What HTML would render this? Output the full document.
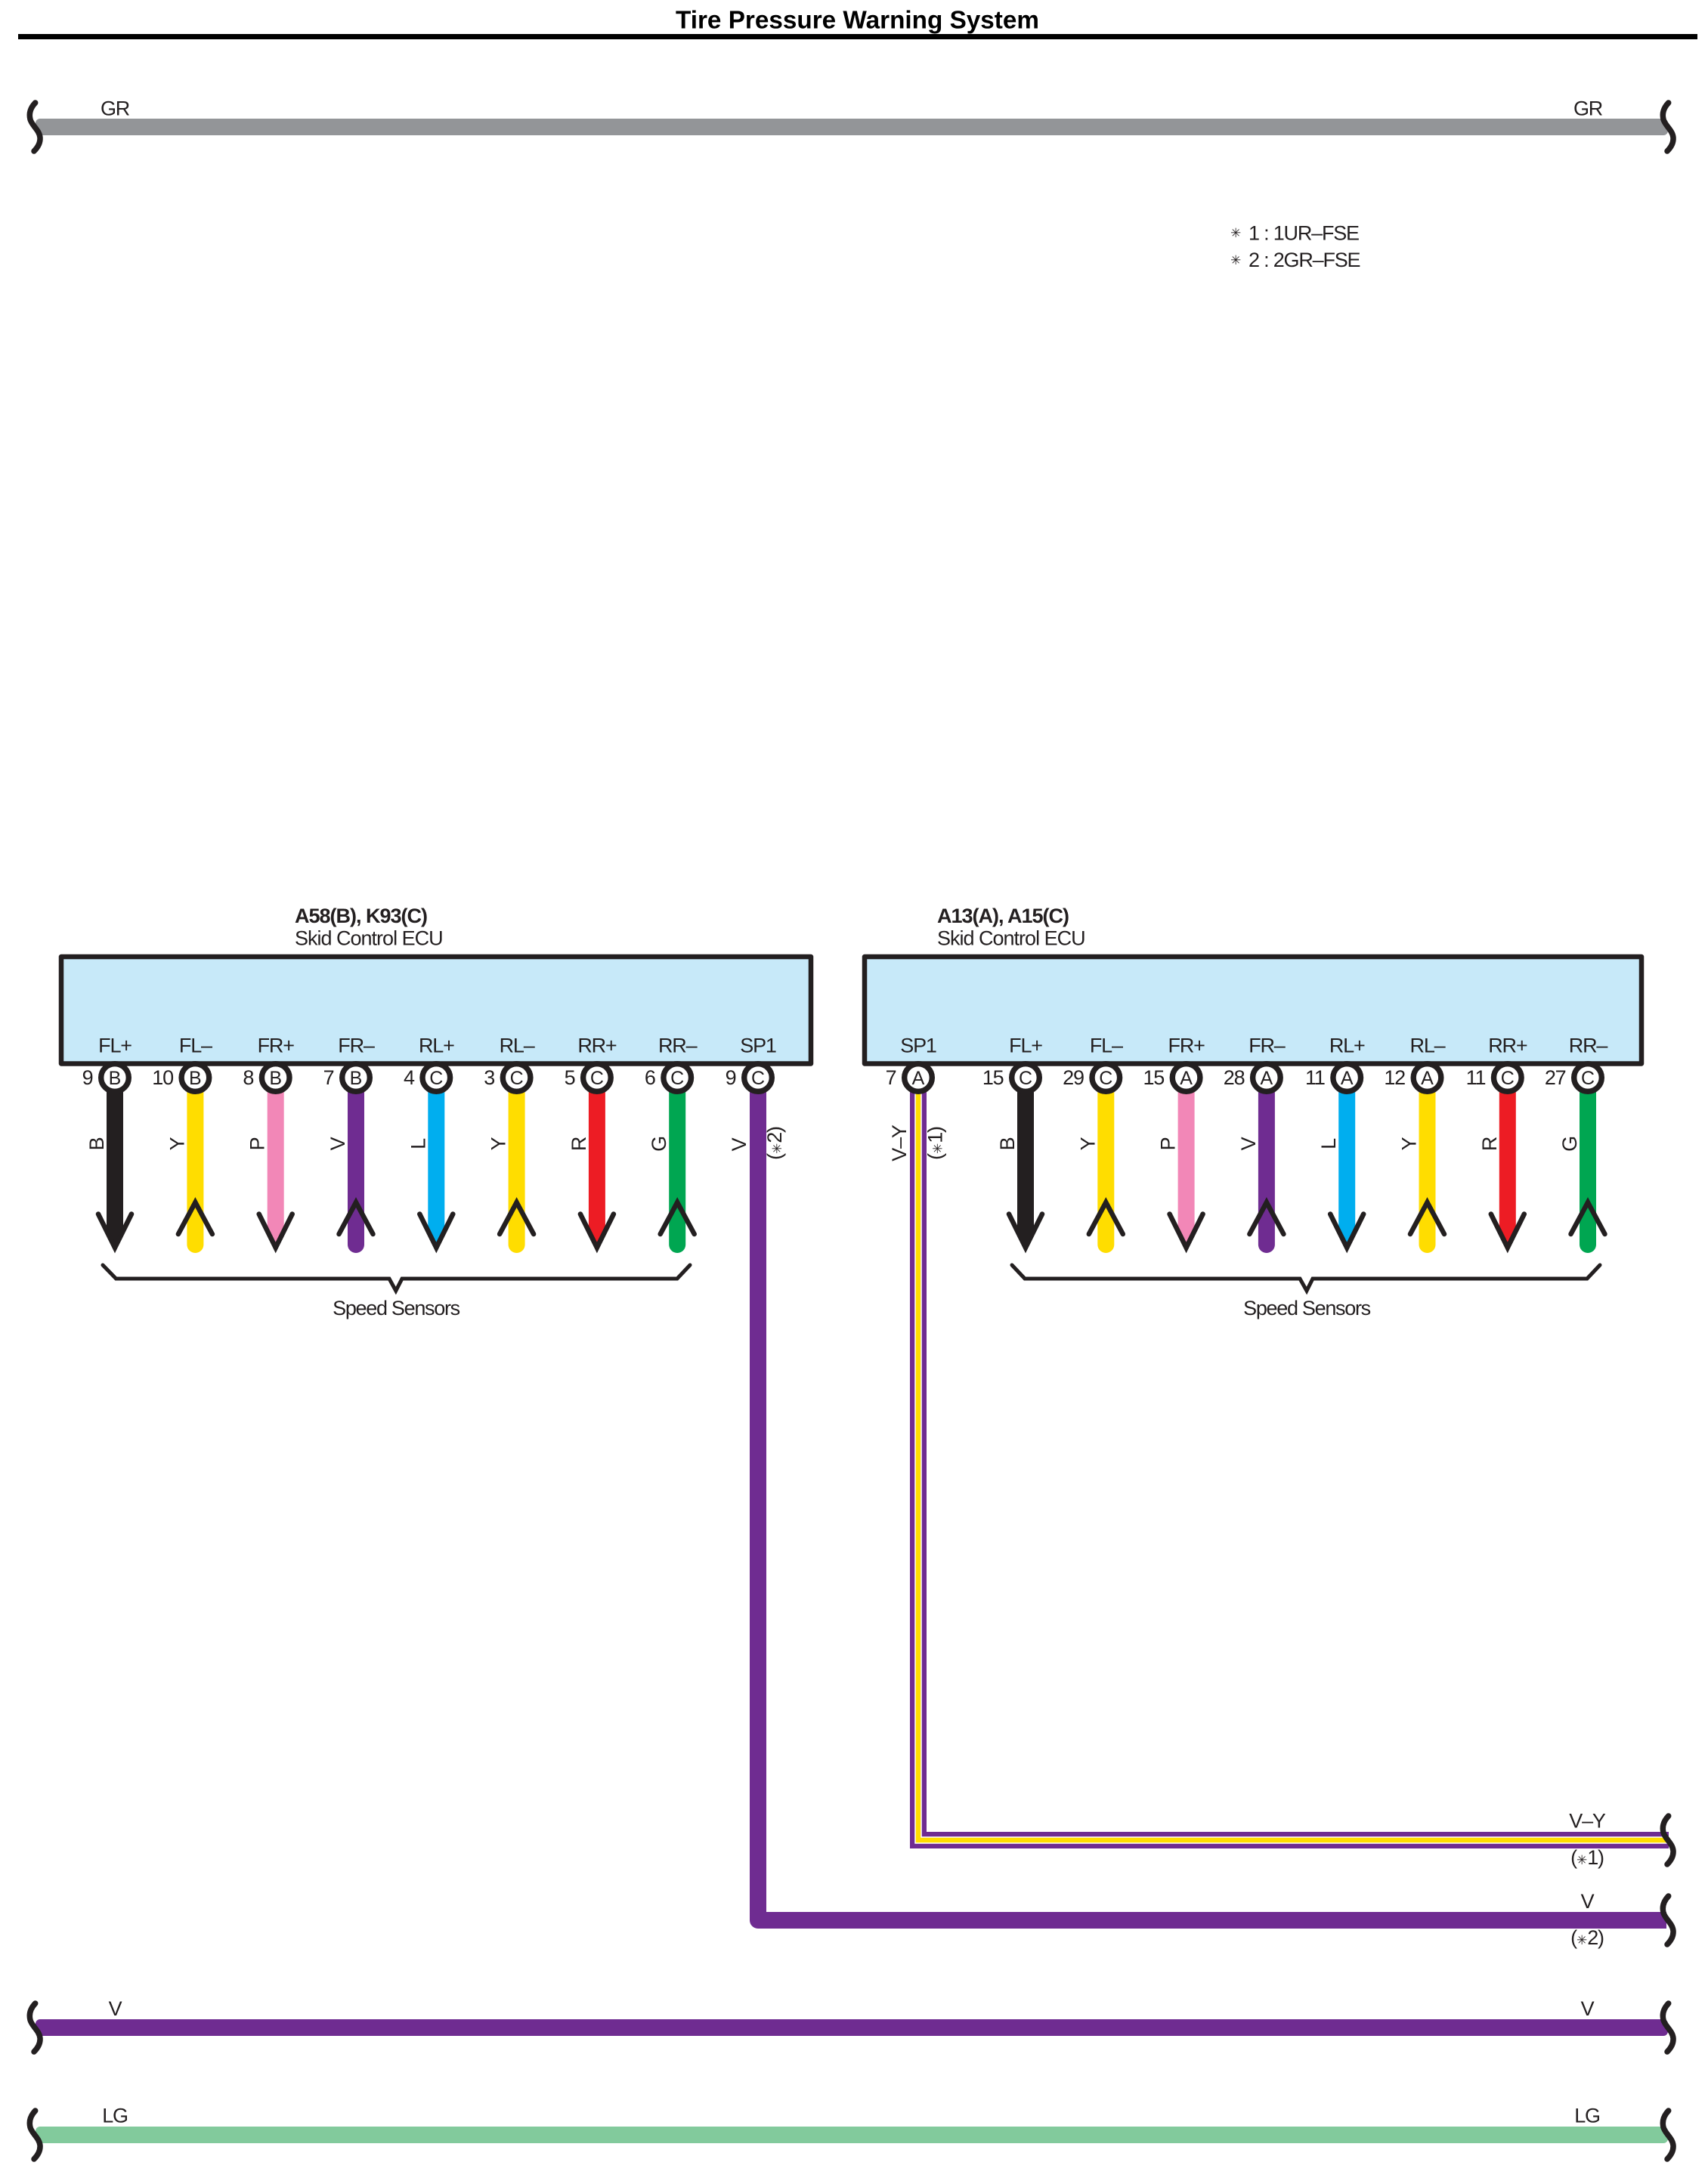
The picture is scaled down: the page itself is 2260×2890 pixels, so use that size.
<!DOCTYPE html>
<html>
<head>
<meta charset="utf-8">
<title>Tire Pressure Warning System</title>
<style>
html,body{margin:0;padding:0;background:#fff;}
svg{display:block;}
text{font-family:"Liberation Sans",Arial,sans-serif;font-size:27px;fill:#231f20;letter-spacing:-1.2px;}
.c{text-anchor:middle;}
.e{text-anchor:end;}
.l{font-size:25px;letter-spacing:0;}
.b{font-weight:bold;letter-spacing:-1px;}
.a{font-family:"DejaVu Sans",sans-serif;font-size:17px;letter-spacing:0;}
</style>
</head>
<body>
<svg width="2260" height="2890" viewBox="0 0 2260 2890" xmlns="http://www.w3.org/2000/svg">
<defs>
<path id="sq" d="M46.7 136C40 143 38 150 40 158C42 166 52 172 53 182C53.5 189 50 195 45 200" fill="none" stroke="#231f20" stroke-width="7.5" stroke-linecap="round"/>
<g id="dn">
<path d="M-11 1440V1628L0 1650L11 1628V1440Z"/>
<path d="M-22 1606.5L0 1651L22 1606.5" fill="none" stroke="#231f20" stroke-width="6.5" stroke-linecap="round" stroke-miterlimit="6"/>
</g>
<g id="up">
<path d="M-11 1440V1647A11 11 0 0 0 11 1647V1440Z"/>
<path d="M-22.5 1633L0 1591L22.5 1633" fill="none" stroke="#231f20" stroke-width="6.5" stroke-linecap="round" stroke-miterlimit="6"/>
</g>
<circle id="pin" cx="0" cy="1426" r="18.3" fill="#fff" stroke="#231f20" stroke-width="7.4"/>
</defs>

<rect width="2260" height="2890" fill="#fff"/>

<!-- Title -->
<text x="894" y="37.5" class="b" style="font-size:33px;letter-spacing:0;fill:#000" textLength="481" lengthAdjust="spacingAndGlyphs">Tire Pressure Warning System</text>
<rect x="24" y="45" width="2222" height="7" fill="#000"/>

<!-- GR bus -->
<rect x="47" y="157" width="2160" height="22" rx="6" fill="#939598"/>
<use href="#sq"/><use href="#sq" transform="translate(2161,0)"/>
<text class="c" x="152" y="152.5">GR</text>
<text class="c" x="2101" y="152.5">GR</text>

<!-- Notes -->
<text class="a" x="1628" y="314">✳</text>
<text x="1652" y="317.5">1 : 1UR–FSE</text>
<text class="a" x="1628" y="350">✳</text>
<text x="1652" y="353">2 : 2GR–FSE</text>

<!-- ECU headers -->
<text class="b" x="390" y="1221">A58(B), K93(C)</text>
<text x="390" y="1250.5" style="letter-spacing:-1px">Skid Control ECU</text>
<text class="b" x="1240" y="1221">A13(A), A15(C)</text>
<text x="1240" y="1250.5" style="letter-spacing:-1px">Skid Control ECU</text>

<!-- ECU boxes -->
<rect x="81" y="1266" width="992" height="141.5" fill="#c7e9f9" stroke="#231f20" stroke-width="6.5" stroke-linejoin="round"/>
<rect x="1144" y="1266" width="1028" height="141.5" fill="#c7e9f9" stroke="#231f20" stroke-width="6.5" stroke-linejoin="round"/>

<!-- Long wires -->
<path d="M1003 1440V2541H2205" fill="none" stroke="#6f2c91" stroke-width="22" stroke-linejoin="round"/>
<path d="M1215 1440V2435H2208" fill="none" stroke="#6f2c91" stroke-width="22" stroke-linejoin="miter"/>
<path d="M1215 1440V2435H2208" fill="none" stroke="#fff" stroke-width="9.5"/>
<path d="M1215 1440V2435H2208" fill="none" stroke="#ffdd00" stroke-width="6.5"/>

<!-- Left ECU pins -->
<g transform="translate(152)"><use href="#dn" fill="#231f20"/><use href="#pin"/><text class="c" y="1392.5">FL+</text><text class="e" x="-29.5" y="1435">9</text><text class="c l" y="1435">B</text><text class="c" transform="translate(-15,1514) rotate(-90)">B</text></g>
<g transform="translate(258.4)"><use href="#up" fill="#ffdd00"/><use href="#pin"/><text class="c" y="1392.5">FL–</text><text class="e" x="-29.5" y="1435">10</text><text class="c l" y="1435">B</text><text class="c" transform="translate(-15,1514) rotate(-90)">Y</text></g>
<g transform="translate(364.7)"><use href="#dn" fill="#f287b7"/><use href="#pin"/><text class="c" y="1392.5">FR+</text><text class="e" x="-29.5" y="1435">8</text><text class="c l" y="1435">B</text><text class="c" transform="translate(-15,1514) rotate(-90)">P</text></g>
<g transform="translate(471)"><use href="#up" fill="#6f2c91"/><use href="#pin"/><text class="c" y="1392.5">FR–</text><text class="e" x="-29.5" y="1435">7</text><text class="c l" y="1435">B</text><text class="c" transform="translate(-15,1514) rotate(-90)">V</text></g>
<g transform="translate(577.3)"><use href="#dn" fill="#00aeef"/><use href="#pin"/><text class="c" y="1392.5">RL+</text><text class="e" x="-29.5" y="1435">4</text><text class="c l" y="1435">C</text><text class="c" transform="translate(-15,1514) rotate(-90)">L</text></g>
<g transform="translate(683.6)"><use href="#up" fill="#ffdd00"/><use href="#pin"/><text class="c" y="1392.5">RL–</text><text class="e" x="-29.5" y="1435">3</text><text class="c l" y="1435">C</text><text class="c" transform="translate(-15,1514) rotate(-90)">Y</text></g>
<g transform="translate(789.9)"><use href="#dn" fill="#ed1c24"/><use href="#pin"/><text class="c" y="1392.5">RR+</text><text class="e" x="-29.5" y="1435">5</text><text class="c l" y="1435">C</text><text class="c" transform="translate(-15,1514) rotate(-90)">R</text></g>
<g transform="translate(896.2)"><use href="#up" fill="#00a651"/><use href="#pin"/><text class="c" y="1392.5">RR–</text><text class="e" x="-29.5" y="1435">6</text><text class="c l" y="1435">C</text><text class="c" transform="translate(-15,1514) rotate(-90)">G</text></g>
<g transform="translate(1003)"><use href="#pin"/><text class="c" y="1392.5">SP1</text><text class="e" x="-29.5" y="1435">9</text><text class="c l" y="1435">C</text><text class="c" transform="translate(-16,1515) rotate(-90)">V</text><text class="c" transform="translate(31,1513) rotate(-90)">(<tspan class="a">✳</tspan>2)</text></g>

<!-- Right ECU pins -->
<g transform="translate(1215)"><use href="#pin"/><text class="c" y="1392.5">SP1</text><text class="e" x="-29.5" y="1435">7</text><text class="c l" y="1435">A</text><text class="c" transform="translate(-16,1513) rotate(-90)">V–Y</text><text class="c" transform="translate(31.5,1513) rotate(-90)">(<tspan class="a">✳</tspan>1)</text></g>
<g transform="translate(1357)"><use href="#dn" fill="#231f20"/><use href="#pin"/><text class="c" y="1392.5">FL+</text><text class="e" x="-29.5" y="1435">15</text><text class="c l" y="1435">C</text><text class="c" transform="translate(-15,1514) rotate(-90)">B</text></g>
<g transform="translate(1463.3)"><use href="#up" fill="#ffdd00"/><use href="#pin"/><text class="c" y="1392.5">FL–</text><text class="e" x="-29.5" y="1435">29</text><text class="c l" y="1435">C</text><text class="c" transform="translate(-15,1514) rotate(-90)">Y</text></g>
<g transform="translate(1569.6)"><use href="#dn" fill="#f287b7"/><use href="#pin"/><text class="c" y="1392.5">FR+</text><text class="e" x="-29.5" y="1435">15</text><text class="c l" y="1435">A</text><text class="c" transform="translate(-15,1514) rotate(-90)">P</text></g>
<g transform="translate(1675.9)"><use href="#up" fill="#6f2c91"/><use href="#pin"/><text class="c" y="1392.5">FR–</text><text class="e" x="-29.5" y="1435">28</text><text class="c l" y="1435">A</text><text class="c" transform="translate(-15,1514) rotate(-90)">V</text></g>
<g transform="translate(1782.2)"><use href="#dn" fill="#00aeef"/><use href="#pin"/><text class="c" y="1392.5">RL+</text><text class="e" x="-29.5" y="1435">11</text><text class="c l" y="1435">A</text><text class="c" transform="translate(-15,1514) rotate(-90)">L</text></g>
<g transform="translate(1888.5)"><use href="#up" fill="#ffdd00"/><use href="#pin"/><text class="c" y="1392.5">RL–</text><text class="e" x="-29.5" y="1435">12</text><text class="c l" y="1435">A</text><text class="c" transform="translate(-15,1514) rotate(-90)">Y</text></g>
<g transform="translate(1994.8)"><use href="#dn" fill="#ed1c24"/><use href="#pin"/><text class="c" y="1392.5">RR+</text><text class="e" x="-29.5" y="1435">11</text><text class="c l" y="1435">C</text><text class="c" transform="translate(-15,1514) rotate(-90)">R</text></g>
<g transform="translate(2101)"><use href="#up" fill="#00a651"/><use href="#pin"/><text class="c" y="1392.5">RR–</text><text class="e" x="-29.5" y="1435">27</text><text class="c l" y="1435">C</text><text class="c" transform="translate(-15,1514) rotate(-90)">G</text></g>

<!-- Braces -->
<path d="M136 1674L153.5 1692H515L523.8 1708L532 1692H896L913 1674" fill="none" stroke="#231f20" stroke-width="5" stroke-linecap="round"/>
<path d="M1339 1674L1356 1692H1720L1729 1708L1737 1692H2100L2117 1674" fill="none" stroke="#231f20" stroke-width="5" stroke-linecap="round"/>
<text class="c" x="524" y="1740" style="letter-spacing:-1.3px">Speed Sensors</text>
<text class="c" x="1729" y="1740" style="letter-spacing:-1.3px">Speed Sensors</text>

<!-- Right-side wire labels and breaks -->
<use href="#sq" transform="translate(2161,2267)"/>
<text class="c" x="2100" y="2418.5">V–Y</text>
<text class="c" x="2100" y="2467">(<tspan class="a">✳</tspan>1)</text>
<use href="#sq" transform="translate(2161,2373)"/>
<text class="c" x="2100" y="2525">V</text>
<text class="c" x="2100" y="2573">(<tspan class="a">✳</tspan>2)</text>

<!-- V bus -->
<rect x="47" y="2672" width="2160" height="22" rx="6" fill="#6f2c91"/>
<use href="#sq" transform="translate(0,2515)"/><use href="#sq" transform="translate(2161,2515)"/>
<text class="c" x="152" y="2667">V</text>
<text class="c" x="2100" y="2667">V</text>

<!-- LG bus -->
<rect x="47" y="2814" width="2160" height="22" rx="6" fill="#82ca9c"/>
<use href="#sq" transform="translate(0,2657)"/><use href="#sq" transform="translate(2161,2657)"/>
<text class="c" x="152" y="2808.5">LG</text>
<text class="c" x="2100" y="2808.5">LG</text>
</svg>
</body>
</html>
